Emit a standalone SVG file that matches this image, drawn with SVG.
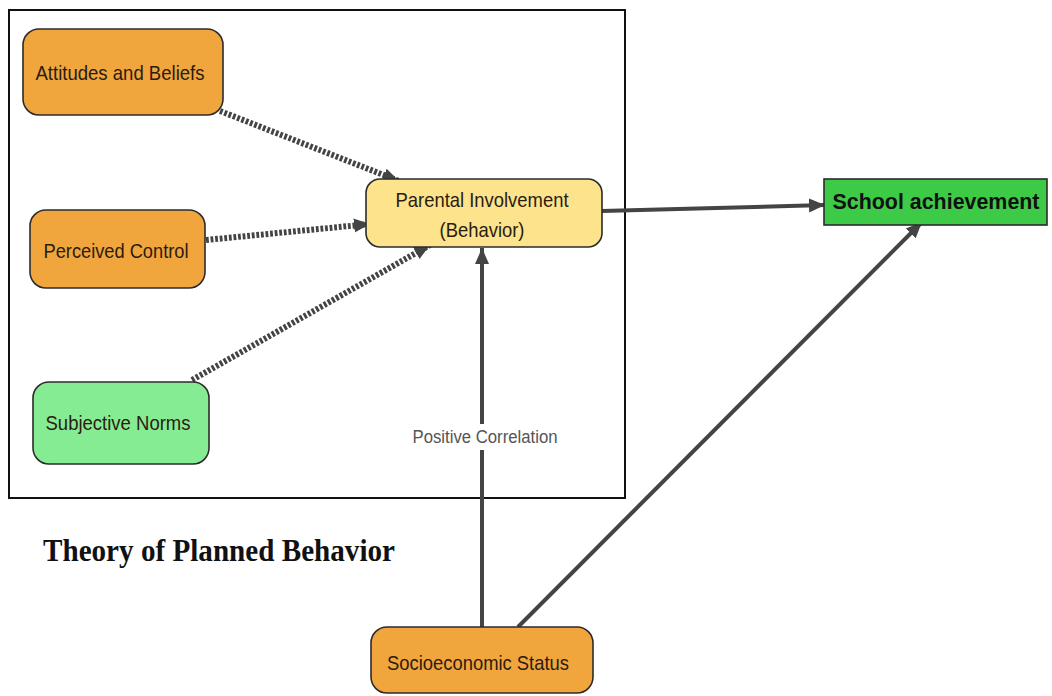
<svg xmlns="http://www.w3.org/2000/svg" width="1052" height="696" viewBox="0 0 1052 696">
<style>
.node{stroke:#2b2b2b;stroke-width:1.6}
.orange{fill:#F1A63D}
.yellow{fill:#FCE38C}
.lgreen{fill:#86EC93}
.green{fill:#3DCB47}
.lbl{font-family:"Liberation Sans",Arial,sans-serif;font-size:21px;fill:#2a1c10;text-anchor:middle}
.dot{stroke:#444;stroke-width:6;stroke-dasharray:2.8 1.8;fill:none}
.solid{stroke:#444;stroke-width:4;fill:none}
</style>
<defs>
<marker id="ah" markerUnits="userSpaceOnUse" markerWidth="18" markerHeight="16" refX="16" refY="8" orient="auto">
<path d="M0,1 L16,8 L0,15 Z" fill="#444"/>
</marker>
</defs>
<rect x="0" y="0" width="1052" height="696" fill="#fff"/>
<rect id="frame" x="9" y="10" width="616" height="488" fill="none" stroke="#111" stroke-width="2"/>
<g id="connectors">
<line class="dot" x1="220" y1="111" x2="399" y2="181" marker-end="url(#ah)"/>
<line class="dot" x1="206" y1="240" x2="370" y2="224" marker-end="url(#ah)"/>
<line class="dot" x1="192" y1="380" x2="430" y2="245" marker-end="url(#ah)"/>
<line class="solid" x1="602" y1="211" x2="825" y2="205" marker-end="url(#ah)"/>
<line class="solid" x1="482" y1="627" x2="482" y2="248" marker-end="url(#ah)"/>
<line class="solid" x1="518" y1="627" x2="922" y2="222" marker-end="url(#ah)"/>
<rect x="410" y="424" width="150" height="26" fill="#fff"/>
<text x="485" y="443" font-family="'Liberation Sans',Arial,sans-serif" font-size="17.5" fill="#555" text-anchor="middle" textLength="145" lengthAdjust="spacingAndGlyphs">Positive Correlation</text>
</g>
<g id="attitudes">
<rect class="node orange" x="23" y="29" width="200" height="86" rx="16"/>
<text class="lbl" x="120" y="80" textLength="169" lengthAdjust="spacingAndGlyphs">Attitudes and Beliefs</text>
</g>
<g id="perceived">
<rect class="node orange" x="30" y="210" width="175" height="78" rx="16"/>
<text class="lbl" x="116" y="258" textLength="145" lengthAdjust="spacingAndGlyphs">Perceived Control</text>
</g>
<g id="subjective">
<rect class="node lgreen" x="33" y="382" width="176" height="82" rx="16"/>
<text class="lbl" x="118" y="430" textLength="145" lengthAdjust="spacingAndGlyphs">Subjective Norms</text>
</g>
<g id="parental">
<rect class="node yellow" x="366" y="179" width="236" height="68" rx="14"/>
<text class="lbl" x="482" y="207" textLength="173" lengthAdjust="spacingAndGlyphs">Parental Involvement</text>
<text class="lbl" x="482" y="237" textLength="85" lengthAdjust="spacingAndGlyphs">(Behavior)</text>
</g>
<g id="school">
<rect class="node green" x="824" y="179" width="223" height="46"/>
<text x="936" y="209" font-family="'Liberation Sans',Arial,sans-serif" font-size="22" font-weight="bold" fill="#111" text-anchor="middle" textLength="207" lengthAdjust="spacingAndGlyphs">School achievement</text>
</g>
<g id="ses">
<rect class="node orange" x="371" y="627" width="222" height="66" rx="16"/>
<text class="lbl" x="478" y="670" textLength="182" lengthAdjust="spacingAndGlyphs">Socioeconomic Status</text>
</g>
<g id="title">
<text x="43" y="561" font-family="'Liberation Serif','Times New Roman',serif" font-size="31" font-weight="bold" fill="#111" textLength="352" lengthAdjust="spacingAndGlyphs">Theory of Planned Behavior</text>
</g>
</svg>
